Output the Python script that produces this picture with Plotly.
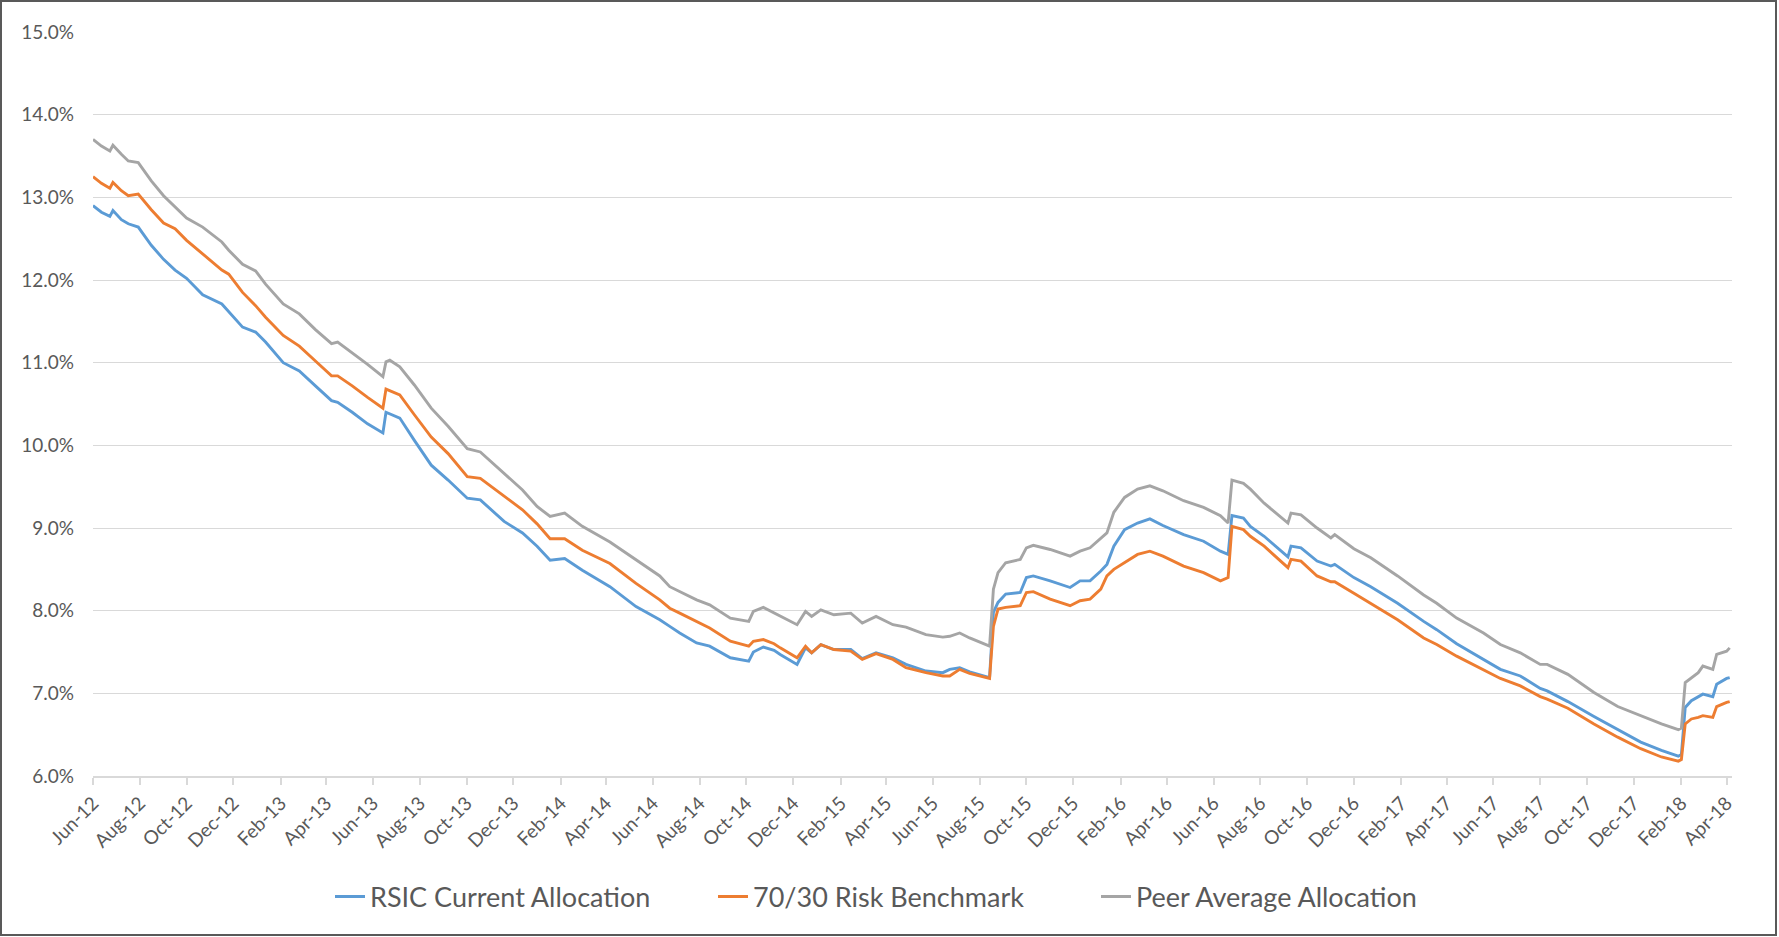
import plotly.graph_objects as go

# 일자별 값 (%, 그림에서 판독)
dates = [
    "2012-06-01", "2012-06-12", "2012-06-23", "2012-06-27", "2012-07-08", "2012-07-17",
    "2012-07-30", "2012-08-16", "2012-09-01", "2012-09-16", "2012-10-01", "2012-10-22",
    "2012-11-16", "2012-11-25", "2012-12-13", "2012-12-30", "2013-01-12", "2013-02-04",
    "2013-02-25", "2013-03-18", "2013-04-08", "2013-04-16", "2013-05-05", "2013-05-25",
    "2013-06-14", "2013-06-18", "2013-06-23", "2013-07-06", "2013-07-25", "2013-08-16",
    "2013-09-07", "2013-10-02", "2013-10-19", "2013-11-19", "2013-12-13", "2014-01-01",
    "2014-01-18", "2014-02-06", "2014-03-01", "2014-04-06", "2014-05-10", "2014-06-10",
    "2014-06-23", "2014-07-06", "2014-07-28", "2014-08-14", "2014-09-10", "2014-10-04",
    "2014-10-10", "2014-10-23", "2014-11-06", "2014-11-14", "2014-12-06", "2014-12-17",
    "2014-12-25", "2015-01-06", "2015-01-23", "2015-02-14", "2015-03-01", "2015-03-19",
    "2015-04-10", "2015-04-27", "2015-05-23", "2015-06-14", "2015-06-23", "2015-07-06",
    "2015-07-19", "2015-08-14", "2015-08-19", "2015-08-25", "2015-09-04", "2015-09-23",
    "2015-10-01", "2015-10-10", "2015-11-01", "2015-11-27", "2015-12-10", "2015-12-23",
    "2016-01-06", "2016-01-14", "2016-01-23", "2016-02-06", "2016-02-23", "2016-03-10",
    "2016-03-27", "2016-04-23", "2016-05-19", "2016-06-10", "2016-06-20", "2016-06-25",
    "2016-07-10", "2016-07-19", "2016-08-06", "2016-09-06", "2016-09-10", "2016-09-23",
    "2016-10-14", "2016-11-01", "2016-11-06", "2016-12-01", "2016-12-23", "2017-01-27",
    "2017-03-02", "2017-03-19", "2017-04-14", "2017-05-19", "2017-06-10", "2017-07-06",
    "2017-08-01", "2017-08-10", "2017-09-06", "2017-10-10", "2017-11-10", "2017-12-10",
    "2018-01-06", "2018-01-28", "2018-02-01", "2018-02-06", "2018-02-14", "2018-02-23",
    "2018-03-01", "2018-03-14", "2018-03-19", "2018-04-01", "2018-04-05",
]

rsic = [
    12.90, 12.82, 12.77, 12.84, 12.73, 12.68, 12.64, 12.42, 12.25, 12.12, 12.02, 11.82,
    11.71, 11.62, 11.43, 11.37, 11.25, 11.00, 10.90, 10.72, 10.54, 10.52, 10.40, 10.26,
    10.15, 10.40, 10.38, 10.33, 10.06, 9.76, 9.58, 9.36, 9.34, 9.08, 8.94, 8.78,
    8.61, 8.63, 8.49, 8.29, 8.05, 7.89, 7.81, 7.73, 7.61, 7.57, 7.43, 7.39,
    7.50, 7.56, 7.52, 7.47, 7.35, 7.55, 7.49, 7.59, 7.53, 7.53, 7.42, 7.49,
    7.43, 7.35, 7.27, 7.25, 7.29, 7.31, 7.26, 7.19, 7.98, 8.10, 8.20, 8.22,
    8.40, 8.42, 8.36, 8.28, 8.36, 8.36, 8.48, 8.56, 8.78, 8.98, 9.06, 9.11,
    9.03, 8.92, 8.84, 8.72, 8.68, 9.15, 9.12, 9.02, 8.90, 8.65, 8.78, 8.76,
    8.60, 8.54, 8.56, 8.40, 8.29, 8.09, 7.87, 7.77, 7.60, 7.41, 7.29, 7.21,
    7.06, 7.03, 6.90, 6.72, 6.56, 6.41, 6.31, 6.24, 6.26, 6.83, 6.91, 6.96,
    6.99, 6.96, 7.11, 7.18, 7.19,
]

bench = [
    13.25, 13.17, 13.11, 13.18, 13.08, 13.02, 13.04, 12.85, 12.69, 12.62, 12.48, 12.32,
    12.12, 12.07, 11.85, 11.69, 11.55, 11.33, 11.20, 11.02, 10.84, 10.84, 10.72, 10.58,
    10.45, 10.68, 10.66, 10.61, 10.37, 10.10, 9.90, 9.62, 9.60, 9.38, 9.22, 9.05,
    8.87, 8.87, 8.73, 8.57, 8.33, 8.13, 8.03, 7.97, 7.87, 7.79, 7.63, 7.57,
    7.63, 7.65, 7.60, 7.55, 7.43, 7.57, 7.49, 7.59, 7.53, 7.51, 7.41, 7.48,
    7.41, 7.31, 7.25, 7.21, 7.21, 7.29, 7.24, 7.18, 7.81, 8.02, 8.04, 8.06,
    8.22, 8.23, 8.14, 8.06, 8.12, 8.14, 8.26, 8.42, 8.50, 8.58, 8.68, 8.72,
    8.66, 8.54, 8.46, 8.36, 8.40, 9.02, 8.98, 8.90, 8.78, 8.52, 8.62, 8.60,
    8.42, 8.35, 8.35, 8.21, 8.09, 7.89, 7.67, 7.59, 7.45, 7.29, 7.18, 7.09,
    6.96, 6.93, 6.82, 6.63, 6.47, 6.33, 6.23, 6.18, 6.20, 6.63, 6.69, 6.71,
    6.73, 6.71, 6.84, 6.89, 6.90,
]

peer = [
    13.70, 13.62, 13.56, 13.63, 13.52, 13.44, 13.42, 13.20, 13.02, 12.88, 12.75, 12.64,
    12.46, 12.36, 12.19, 12.11, 11.95, 11.71, 11.59, 11.40, 11.23, 11.25, 11.12, 10.98,
    10.83, 11.01, 11.03, 10.95, 10.73, 10.45, 10.23, 9.96, 9.92, 9.66, 9.46, 9.26,
    9.14, 9.18, 9.02, 8.83, 8.61, 8.42, 8.29, 8.23, 8.13, 8.07, 7.91, 7.87,
    7.99, 8.04, 7.97, 7.93, 7.83, 7.99, 7.93, 8.01, 7.95, 7.97, 7.85, 7.93,
    7.83, 7.80, 7.71, 7.68, 7.69, 7.73, 7.67, 7.57, 8.26, 8.46, 8.58, 8.62,
    8.76, 8.79, 8.74, 8.66, 8.72, 8.76, 8.88, 8.94, 9.19, 9.37, 9.47, 9.51,
    9.45, 9.33, 9.25, 9.15, 9.06, 9.58, 9.54, 9.47, 9.30, 9.06, 9.18, 9.16,
    9.00, 8.88, 8.92, 8.75, 8.64, 8.42, 8.19, 8.09, 7.91, 7.73, 7.59, 7.49,
    7.35, 7.35, 7.23, 7.01, 6.84, 6.73, 6.63, 6.56, 6.58, 7.13, 7.19, 7.25,
    7.33, 7.29, 7.47, 7.51, 7.55,
]

series_names = ["RSIC Current Allocation", "70/30 Risk Benchmark", "Peer Average Allocation"]
series_colors = ["#5b9bd5", "#ed7d31", "#a5a5a5"]

# x 축 눈금: 두 달 간격
tick_dates = [f"{2012 + (5 + k) // 12}-{(5 + k) % 12 + 1:02d}-01" for k in range(0, 71, 2)]

FONT = "Lato"
TXT = "#595959"
GRID = "#d9d9d9"

fig = go.Figure()
for name, ys, col in zip(series_names, [rsic, bench, peer], series_colors):
    fig.add_trace(go.Scatter(x=dates, y=ys, mode="lines", name=name,
                             line=dict(color=col, width=2.9)))

W, H = 1779, 937
L, R, T, B = 93, 47, 32, 161
pw, ph = W - L - R, H - T - B


def px(x):  # 픽셀 → paper 좌표
    return (x - L) / pw


def py(y):
    return (H - B - y) / ph


fig.update_layout(
    width=W, height=H,
    margin=dict(l=L, r=R, t=T, b=B),
    paper_bgcolor="white", plot_bgcolor="white",
    font=dict(family=FONT, color=TXT),
    showlegend=True,
    # 범례 항목 간격을 원본처럼 넓게 (entrywidth 고정)
    legend=dict(orientation="h", x=px(330), xanchor="left", y=py(897), yanchor="middle",
                entrywidth=338, font=dict(size=27, color=TXT),
                bgcolor="rgba(0,0,0,0)"),
    xaxis=dict(type="date", range=["2012-06-01", "2018-04-08"],
               tickvals=tick_dates, tickformat="%b-%y", tickangle=-45,
               tickfont=dict(size=19, color=TXT),
               showgrid=False, zeroline=False,
               showline=True, linecolor=GRID, linewidth=1.5,
               ticks="outside", ticklen=7, tickcolor=GRID, tickwidth=1.5),
    yaxis=dict(range=[6, 15], dtick=1, tickformat=".1f", ticksuffix="%",
               tickfont=dict(size=19, color=TXT),
               showgrid=True, gridcolor=GRID, gridwidth=1.4,
               zeroline=False, showline=False, ticks="", ticklabelstandoff=18),
    shapes=[dict(type="rect", xref="paper", yref="paper",
                 x0=px(1), x1=px(W - 3), y0=py(H - 2), y1=py(1),
                 line=dict(color="#595959", width=2), fillcolor="rgba(0,0,0,0)",
                 layer="below")],
)

# 페이지 기본 body 여백(8px) 제거 → 1779×937 창에 그대로 맞춤
fig.write_html("out.html", config={"displayModeBar": False},
               post_script="document.body.style.margin='0';")
